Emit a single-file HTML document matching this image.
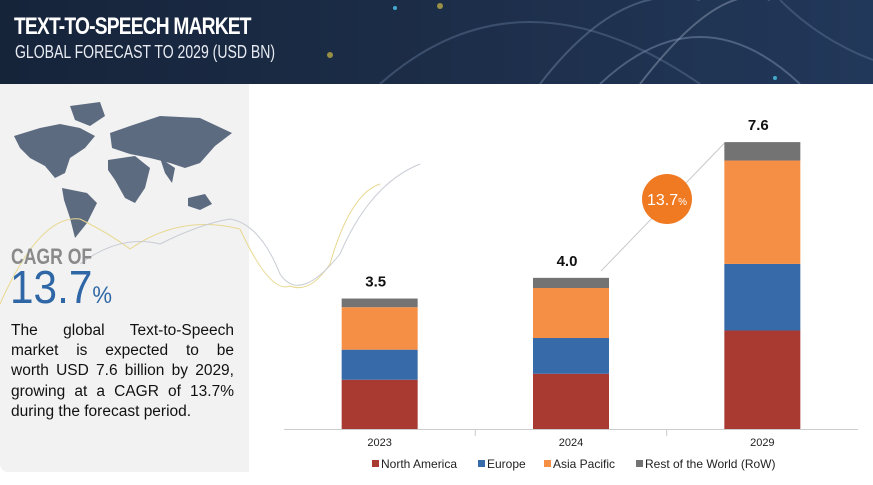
<!DOCTYPE html>
<html><head><meta charset="utf-8"><style>
body{margin:0;width:873px;height:485px;overflow:hidden;background:#fff;font-family:"Liberation Sans",sans-serif;position:relative}
#hdr{position:absolute;left:0;top:0;width:873px;height:84px;background:linear-gradient(90deg,#16243a,#1c2d48 50%,#22385a);overflow:hidden}
#panel{position:absolute;left:0;top:84px;width:249px;height:388px;background:#f2f2f2;border-radius:0 0 0 8px}
.t{position:absolute;white-space:nowrap}
.ln{position:absolute;left:11px;width:223px;font-size:15.5px;color:#111;text-align:justify;text-align-last:justify;white-space:nowrap}
</style></head><body>
<div id="hdr">
<svg width="873" height="84" style="position:absolute;left:0;top:0">
<path d="M380 84 Q520 -40 700 84" stroke="#5a7090" stroke-width="2" fill="none" opacity=".5"/>
<path d="M540 84 Q620 -20 700 0" stroke="#6a80a0" stroke-width="2" fill="none" opacity=".5"/>
<path d="M600 84 Q700 -10 800 84" stroke="#6a80a0" stroke-width="2" fill="none" opacity=".6"/>
<path d="M640 84 Q720 -20 770 0" stroke="#8a9ab0" stroke-width="2" fill="none" opacity=".5"/>
<path d="M780 0 Q820 40 873 60" stroke="#5a7090" stroke-width="2" fill="none" opacity=".5"/>
<circle cx="395" cy="8" r="2" fill="#4ac"/><circle cx="330" cy="55" r="3" fill="#cb4" opacity=".7"/><circle cx="440" cy="6" r="3" fill="#cb4" opacity=".7"/><circle cx="775" cy="78" r="2" fill="#4ac"/>
</svg>
<div class="t" style="left:14px;top:13px;font-size:24px;font-weight:bold;color:#fff;letter-spacing:-1px;transform:scaleX(.8);transform-origin:left">TEXT-TO-SPEECH MARKET</div>
<div class="t" style="left:15px;top:42px;font-size:18px;color:#e8ecf2;transform:scaleX(.78);transform-origin:left">GLOBAL FORECAST TO 2029 (USD BN)</div>
</div>
<div id="panel">
<svg width="249" height="388" style="position:absolute;left:0;top:0">
<g fill="#5d6b80">
<path d="M14 52 L40 44 L60 40 L80 44 L95 52 L85 64 L70 74 L65 89 L55 94 L45 82 L30 74 L20 64 Z"/>
<path d="M70 22 L100 18 L105 32 L90 42 L75 36 Z"/>
<path d="M62 104 L87 109 L97 119 L87 139 L75 154 L70 134 L64 116 Z"/>
<path d="M108 76 L135 72 L150 84 L145 104 L135 119 L125 114 L115 96 L108 86 Z"/>
<path d="M110 49 L130 42 L160 32 L200 34 L232 49 L215 62 L200 79 L185 84 L170 79 L150 74 L130 70 L112 64 Z"/>
<path d="M160 74 L175 84 L172 99 L165 89 Z"/>
<path d="M188 114 L205 110 L212 120 L200 126 L188 122 Z"/>
</g></svg>
<svg width="300" height="300" style="position:absolute;left:0;top:60px;overflow:visible">
<path d="M0 160 Q40 70 80 75 Q110 90 130 105 Q180 70 240 85 Q270 150 290 142 Q310 150 330 120 Q350 50 380 40" stroke="#e8d890" fill="none"/>
<path d="M80 120 Q120 90 160 100 Q200 80 230 75 Q260 80 280 130 Q300 160 340 110 Q370 40 420 20" stroke="#c8ccd4" fill="none"/>
</svg>
<div class="t" style="left:11px;top:160px;font-size:22px;font-weight:bold;color:#8a8a8a;transform:scaleX(.8);transform-origin:left">CAGR OF</div>
<div class="t" style="left:10px;top:176px;font-size:46px;color:#2f67a6;transform:scaleX(.92);transform-origin:left">13.7<span style="font-size:24px">%</span></div>
<div>
<div class="ln" style="top:238px">The global Text-to-Speech</div>
<div class="ln" style="top:258px">market is expected to be</div>
<div class="ln" style="top:278px">worth USD 7.6 billion by 2029,</div>
<div class="ln" style="top:299px">growing at a CAGR of 13.7%</div>
<div class="ln" style="top:319px;text-align-last:left">during the forecast period.</div>
</div>
</div>
<svg id="chart" width="873" height="485" style="position:absolute;left:0;top:0"></svg>
<script>
const categories=["2023","2024","2029"];
const northAmerica=[1.31,1.47,2.62];
const europe=[0.80,0.95,1.77];
const asiaPacific=[1.13,1.33,2.75];
const restOfWorld=[0.23,0.27,0.49];
const totals=["3.5","4.0","7.6"];
const seriesNames=["North America","Europe","Asia Pacific","Rest of the World (RoW)"];
const colors=["#a93a31","#376aa8","#f58f45","#737373"];
const ns="http://www.w3.org/2000/svg";
const svg=document.getElementById('chart');
const base=429, k=37.6, x0=284, x1=858, bw=76;
const slot=(x1-x0)/categories.length;
const xC=i=>x0+slot*(i+0.5);
const y=v=>base-v*k;
function mk(t,a){const e=document.createElementNS(ns,t);for(const p in a)e.setAttribute(p,a[p]);svg.appendChild(e);return e;}
const series=[northAmerica,europe,asiaPacific,restOfWorld];
const aL=mk('line',{x1:xC(1)+30,y1:y(4.2),x2:xC(2)-38,y2:y(7.6),stroke:'#c8c8c8','stroke-width':1});


categories.forEach((c,i)=>{
  let acc=0;
  series.forEach((s,j)=>{
    const r=mk('rect',{x:xC(i)-bw/2,y:y(acc+s[i]),width:bw,height:s[i]*k,fill:colors[j]});
    
    
    acc+=s[i];
  });
  const tl=mk('text',{x:xC(i)-4,y:y(acc)-12,'font-size':15,'font-weight':'bold','text-anchor':'middle',fill:'#111'});
  tl.textContent=totals[i];
  
  
  const xl=mk('text',{x:xC(i),y:446,'font-size':11,'text-anchor':'middle',fill:'#222'});
  xl.textContent=c;
  
  
  if(i>0){const tk=mk('line',{x1:x0+slot*i,y1:base,x2:x0+slot*i,y2:436,stroke:'#ccc'});
  
  }
});
const ax=mk('line',{x1:x0,y1:base+0.5,x2:x1,y2:base+0.5,stroke:'#ccc'});


const cc=mk('circle',{cx:667,cy:199,r:25,fill:'#f07a22'});


const ct=mk('text',{x:667,y:205,'font-size':16,fill:'#fff','text-anchor':'middle'});
ct.innerHTML='13.7<tspan font-size="10">%</tspan>';


const lx=[372,478,544,636];
seriesNames.forEach((n,j)=>{
  const r=mk('rect',{x:lx[j],y:460,width:7,height:7,fill:colors[j]});
  
  
  const t=mk('text',{x:lx[j]+9,y:468,'font-size':12,fill:'#222'});
  t.textContent=n;
  
  
});
</script>
</body></html>
